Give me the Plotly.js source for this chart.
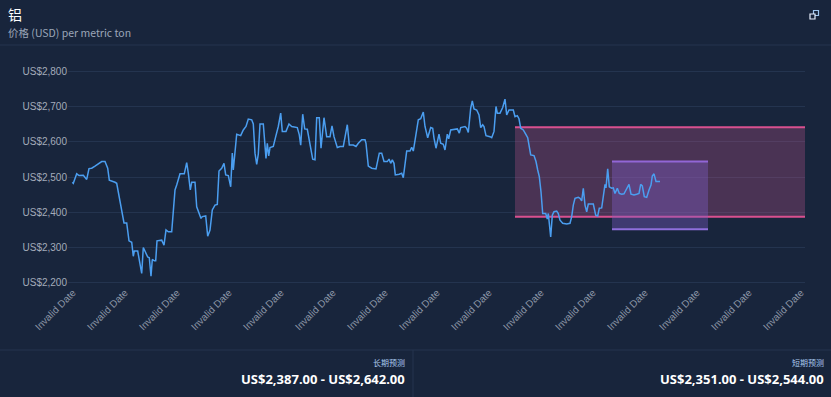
<!DOCTYPE html>
<html>
<head>
<meta charset="utf-8">
<script src="https://cdn.plot.ly/plotly-3.0.1.min.js"></script>
<style>
html,body{margin:0;padding:0;background:#18253c;}
#chart{width:831px;height:397px;}
</style>
</head>
<body>
<div id="chart"></div>
<script>
// ---- data ----
const chartTitle = '铝';
const chartSubtitle = '价格 (USD) per metric ton';
const tickLabel = 'Invalid Date';
const tickPositions = [0, 52, 104, 156, 208, 260, 312, 364, 416, 468, 520, 572, 624, 676, 728];

const dayIndex = [
  -0.7, 0.3, 3.7, 6, 10.3, 13.7, 16, 18.7, 22, 25.3,
  28.7, 32, 34.7, 36.3, 38.7, 42, 43.7, 47, 49.3, 51,
  53.7, 56, 58.7, 60.3, 61.3, 64.7, 66, 68.7, 70.3, 72.7,
  74.7, 76.3, 78, 79.3, 81.3, 82.7, 84, 88.7, 91, 93,
  95.3, 98.7, 102, 103.7, 107, 111.3, 113.7, 115.3, 117.3, 118.7,
  122, 123.7, 125.3, 128, 129.3, 132.7, 134.7, 137, 139.3, 142,
  144.3, 146, 148.7, 151, 152.7, 155.3, 157.7, 159.3, 160.3, 163.7,
  167.7, 170.3, 173, 175.3, 178.7, 180.3, 182, 183.7, 185.3, 187,
  190.3, 192, 193, 194.3, 195.7, 197, 200.3, 202.7, 205.3, 207.7,
  209.3, 213, 216, 218.7, 222, 224.3, 226.3, 227.7, 229.7, 231.7,
  234.3, 237, 239.7, 242, 243.7, 246.3, 248, 251, 253.7, 257,
  259, 261, 264.3, 267, 270.3, 274.3, 276.3, 280.3, 283, 285.3,
  288.7, 292, 293, 295.3, 298.7, 303, 306.3, 308.7, 311, 314.3,
  316, 317.7, 319.3, 321, 322.3, 326.3, 328.7, 330.3, 333.7, 337,
  338.7, 340.3, 343, 345.3, 347.7, 350.3, 352, 354.7, 357.7, 359.7,
  361, 363, 366, 367.7, 370.3, 372, 374.3, 375.7, 377.7, 381,
  384.3, 386.3, 387.7, 392, 393.7, 395.3, 397.7, 399.3, 401, 403.7,
  406, 407.7, 409.7, 411, 413, 417, 418.7, 421, 423, 424.3,
  427, 429.7, 432, 433.7, 436, 440.3, 442, 444.3, 446, 447.7,
  450.3, 452.7, 454.7, 456, 457.7, 461, 463, 464.7, 466.3, 468,
  469.7, 472.7, 474.3, 475.3, 476.3, 477.7, 479.3, 481, 483.7, 485.3,
  487, 489.7, 493.7, 497, 498.7, 500.3, 502, 505.3, 507, 508.7,
  510.3, 512, 513.7, 515.3, 520.3, 522.7, 524.7, 526.3, 528.7, 530.3,
  532, 533, 534.7, 536.3, 538.7, 540.3, 542, 544.3, 546.3, 548.7,
  551, 553, 556, 558, 561, 563.7, 566, 567.7, 569.3, 571.3,
  573.7, 576, 578, 579.3, 581, 583, 587
];
const priceUSD = [
  2485, 2482, 2509, 2504, 2505, 2493, 2524, 2525, 2531, 2537,
  2544, 2544, 2525, 2491, 2489, 2485, 2482, 2429, 2401, 2369,
  2369, 2318, 2314, 2274, 2289, 2289, 2268, 2225, 2299, 2284,
  2272, 2270, 2217, 2265, 2261, 2261, 2318, 2320, 2306, 2349,
  2344, 2344, 2463, 2477, 2509, 2509, 2541, 2511, 2463, 2485,
  2485, 2415, 2401, 2382, 2387, 2389, 2331, 2349, 2406, 2420,
  2422, 2517, 2525, 2539, 2506, 2504, 2472, 2568, 2520, 2622,
  2618, 2634, 2644, 2665, 2663, 2651, 2568, 2536, 2565, 2651,
  2651, 2572, 2553, 2596, 2560, 2584, 2587, 2615, 2644, 2682,
  2630, 2630, 2651, 2644, 2641, 2641, 2620, 2591, 2679, 2637,
  2636, 2587, 2551, 2549, 2669, 2669, 2582, 2669, 2615, 2615,
  2646, 2615, 2584, 2587, 2587, 2649, 2591, 2591, 2587, 2596,
  2606, 2606, 2596, 2531, 2525, 2523, 2568, 2568, 2544, 2544,
  2551, 2539, 2549, 2539, 2506, 2508, 2511, 2498, 2574, 2574,
  2585, 2574, 2625, 2663, 2666, 2685, 2644, 2612, 2641, 2639,
  2611, 2582, 2622, 2596, 2593, 2577, 2622, 2609, 2634, 2636,
  2637, 2625, 2641, 2644, 2639, 2627, 2696, 2717, 2694, 2691,
  2677, 2641, 2649, 2644, 2618, 2615, 2612, 2630, 2701, 2682,
  2682, 2698, 2722, 2677, 2691, 2691, 2672, 2675, 2666, 2639,
  2634, 2622, 2612, 2591, 2563, 2561, 2544, 2520, 2501, 2458,
  2396, 2396, 2380, 2396, 2372, 2329, 2391, 2401, 2403, 2396,
  2377, 2368, 2366, 2368, 2387, 2420, 2439, 2442, 2439, 2432,
  2468, 2420, 2401, 2423, 2423, 2391, 2389, 2411, 2412, 2449,
  2479, 2469, 2523, 2472, 2468, 2469, 2453, 2468, 2453, 2451,
  2452, 2463, 2479, 2451, 2449, 2451, 2453, 2479, 2475, 2444,
  2442, 2463, 2477, 2503, 2509, 2487, 2487
];

// forecast ranges
const longLabel = '长期预测';
const longStart = 442, longEnd = 732;
const longLow = 2387, longHigh = 2642;
const shortLabel = '短期预测';
const shortStart = 539, shortEnd = 635;
const shortLow = 2351, shortHigh = 2544;

// ---- layout helpers ----
const W = 831, H = 397;
const M = {l: 68, r: 26, t: 70, b: 113};
const PW = W - M.l - M.r, PH = H - M.t - M.b;
const px = v => (v - M.l) / PW;
const py = v => (H - M.b - v) / PH;

const fmt = v => 'US$' + v.toLocaleString('en-US', {minimumFractionDigits: 2, maximumFractionDigits: 2});

const lineCol = '#4b9ef0';
const sepCol = '#25344f';

const shapes = [
  // long-term range
  {type:'rect', xref:'x', yref:'y', x0:longStart, x1:longEnd, y0:longLow, y1:longHigh,
   fillcolor:'rgba(193,85,144,0.30)', line:{width:0}, layer:'between'},
  {type:'line', xref:'x', yref:'y', x0:longStart, x1:longEnd, y0:longHigh, y1:longHigh,
   line:{color:'#d9508f', width:2}, layer:'between'},
  {type:'line', xref:'x', yref:'y', x0:longStart, x1:longEnd, y0:longLow, y1:longLow,
   line:{color:'#d9508f', width:2}, layer:'between'},
  // short-term range
  {type:'rect', xref:'x', yref:'y', x0:shortStart, x1:shortEnd, y0:shortLow, y1:shortHigh,
   fillcolor:'rgba(128,95,200,0.38)', line:{width:0}, layer:'between'},
  {type:'line', xref:'x', yref:'y', x0:shortStart, x1:shortEnd, y0:shortHigh, y1:shortHigh,
   line:{color:'#9266d6', width:2}, layer:'between'},
  {type:'line', xref:'x', yref:'y', x0:shortStart, x1:shortEnd, y0:shortLow, y1:shortLow,
   line:{color:'#8f6fdc', width:2}, layer:'between'},
  // separators
  {type:'line', xref:'paper', yref:'paper', x0:px(0), x1:px(W), y0:py(45), y1:py(45),
   line:{color:sepCol, width:1}},
  {type:'line', xref:'paper', yref:'paper', x0:px(0), x1:px(W), y0:py(350), y1:py(350),
   line:{color:sepCol, width:1}},
  {type:'line', xref:'paper', yref:'paper', x0:px(413), x1:px(413), y0:py(350), y1:py(H),
   line:{color:sepCol, width:1}},
  // expand icon
  {type:'rect', xref:'paper', yref:'paper', x0:px(813.5), x1:px(818.5), y0:py(15.5), y1:py(10.5),
   line:{color:'#9fc6ee', width:1.2}, fillcolor:'rgba(0,0,0,0)'},
  {type:'rect', xref:'paper', yref:'paper', x0:px(810), x1:px(815), y0:py(19), y1:py(14),
   line:{color:'#e8f0ff', width:1.2}, fillcolor:'#18253c'}
];

const annotations = [
  {text: chartTitle, xref:'paper', yref:'paper', x:px(7), y:py(14), xanchor:'left', yanchor:'middle',
   showarrow:false, borderpad:0, font:{family:'Noto Sans CJK SC, Noto Sans, sans-serif', size:14, color:'#ffffff'}},
  {text: chartSubtitle, xref:'paper', yref:'paper', x:px(7), y:py(32), xanchor:'left', yanchor:'middle',
   showarrow:false, borderpad:0, font:{family:'Noto Sans CJK SC, Noto Sans, sans-serif', size:10.5, color:'#9ba6b8'}},
  {text: longLabel, xref:'paper', yref:'paper', x:px(407), y:py(362), xanchor:'right', yanchor:'middle',
   showarrow:false, font:{family:'Noto Sans CJK SC, sans-serif', size:8, color:'#a9c8ee'}},
  {text: '<b>' + fmt(longLow) + ' - ' + fmt(longHigh) + '</b>', xref:'paper', yref:'paper', x:px(407), y:py(379),
   xanchor:'right', yanchor:'middle', showarrow:false,
   font:{family:'Noto Sans, sans-serif', size:13, color:'#ffffff'}},
  {text: shortLabel, xref:'paper', yref:'paper', x:px(826), y:py(362), xanchor:'right', yanchor:'middle',
   showarrow:false, font:{family:'Noto Sans CJK SC, sans-serif', size:8, color:'#a9c8ee'}},
  {text: '<b>' + fmt(shortLow) + ' - ' + fmt(shortHigh) + '</b>', xref:'paper', yref:'paper', x:px(826), y:py(379),
   xanchor:'right', yanchor:'middle', showarrow:false,
   font:{family:'Noto Sans, sans-serif', size:13, color:'#ffffff'}}
];

const trace = {
  x: dayIndex, y: priceUSD, type:'scatter', mode:'lines',
  line:{color: lineCol, width:1.5}, hoverinfo:'skip'
};

const layout = {
  width: W, height: H,
  margin: M,
  paper_bgcolor:'#18253c', plot_bgcolor:'#18253c',
  showlegend:false,
  font:{family:'Liberation Sans, Arial, sans-serif', color:'#9aa3b4'},
  xaxis:{
    range:[-5, 732], showgrid:false, zeroline:false, showline:false,
    tickmode:'array', tickvals:tickPositions, ticktext:tickPositions.map(() => tickLabel),
    tickangle:-45, ticks:'', tickfont:{size:10, color:'#8c95a6'}, fixedrange:true
  },
  yaxis:{
    range:[2195, 2805], dtick:100, tick0:2200, tickprefix:'US$', tickformat:',d',
    gridcolor:'#24344f', gridwidth:1, zeroline:false, showline:false, ticks:'',
    tickfont:{size:10, color:'#a3abba'}, fixedrange:true
  },
  shapes: shapes,
  annotations: annotations
};

Plotly.newPlot('chart', [trace], layout, {displayModeBar:false, staticPlot:true});
</script>
</body>
</html>
